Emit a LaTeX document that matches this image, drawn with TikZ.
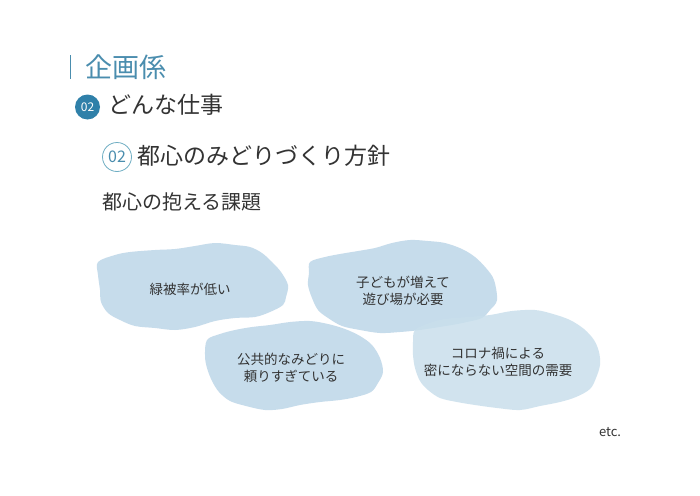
\documentclass[tikz,border=0pt]{standalone}
\usepackage{fontspec}
\setmainfont{Noto Sans CJK JP}
\definecolor{titleblue}{HTML}{4A8DAE}
\definecolor{darkblue}{HTML}{2F80A9}
\definecolor{ringblue}{HTML}{6FAEC3}
\definecolor{txt}{HTML}{333333}
\definecolor{blobA}{HTML}{BDD6E8}
\definecolor{blobB}{HTML}{C9DFEC}
\tikzset{
  blob/.style={fill=blobA, draw=none, fill opacity=0.85},
  blobtext/.style={text=txt, font=\fontsize{13.5}{16.5}\selectfont, align=center},
  head/.style={text=txt, anchor=west}
}
\begin{document}
\begin{tikzpicture}[x=1pt,y=-1pt]
\useasboundingbox (0,0) rectangle (700,495);
\fill[white] (0,0) rectangle (700,495);
% title
\draw[titleblue, line width=1pt] (70,55) coordinate (bt) -- (70,79) coordinate (bb);
\node[anchor=west, text=titleblue, font=\fontsize{27}{30}\selectfont, inner sep=0pt] (title) at (85,67) {企画係};
% heading 1
\node[circle, fill=darkblue, minimum size=25pt, inner sep=0pt, text=white, font=\fontsize{12}{13}\selectfont] (c1) at (87.5,107) {02};
\node[head, font=\fontsize{23}{27}\selectfont, inner sep=0pt] (h1) at (108,105) {どんな仕事};
% heading 2
\node[circle, draw=ringblue, line width=0.8pt, minimum size=29pt, inner sep=0pt, text=titleblue, font=\fontsize{16}{17}\selectfont] (c2) at (117,157) {02};
\node[head, font=\fontsize{23}{27}\selectfont, inner sep=0pt] (h2) at (137,156) {都心のみどりづくり方針};
% heading 3
\node[head, font=\fontsize{20}{24}\selectfont, inner sep=0pt] (h3) at (102,202) {都心の抱える課題};
% blobs
\fill[blob] plot[smooth cycle, tension=0.55] coordinates {(98,262) (115,255) (130,252) (155,250) (175,249) (195,246) (215,243) (235,245) (250,247) (262,253) (272,262) (281,272) (288,285) (286,297) (283,305) (270,312) (255,317) (235,318) (215,321) (195,327) (175,330) (155,328) (135,326) (120,320) (108,313) (101,302) (100,290) (98,275)};
\fill[blob] plot[smooth cycle, tension=0.55] coordinates {(310,262) (325,257) (340,254) (358,251) (375,248) (392,243) (410,240) (428,241) (445,243) (462,249) (475,257) (486,268) (494,280) (497,300) (490,310) (482,318) (467,322) (452,325) (420,330) (400,332) (380,333) (360,330) (342,326) (328,318) (318,310) (312,298) (308,285) (309,273)};
\fill[blob] plot[smooth cycle, tension=0.55] coordinates {(207,340) (220,334) (235,330) (252,327) (270,325) (290,322) (310,321) (328,324) (345,329) (360,336) (372,345) (380,358) (383,372) (378,383) (371,392) (356,397) (340,400) (320,402) (300,405) (282,409) (265,410) (246,406) (230,401) (219,392) (212,381) (207,368) (205,356)};
\fill[blob, fill=blobB] plot[smooth cycle, tension=0.55] coordinates {(415,330) (430,323) (445,319) (468,317) (490,315) (512,311) (535,310) (553,314) (570,320) (584,329) (594,340) (599,352) (600,365) (596,378) (590,389) (576,397) (560,402) (540,406) (520,410) (497,408) (475,405) (457,402) (440,398) (428,390) (420,381) (415,368) (413,355) (413,342)};
% blob texts
\node[blobtext] (t1) at (190,289) {緑被率が低い};
\node[blobtext] (t2) at (403,291) {子どもが増えて\\遊び場が必要};
\node[blobtext] (t3) at (291,368) {公共的なみどりに\\頼りすぎている};
\node[blobtext] (t4) at (498,362) {コロナ禍による\\密にならない空間の需要};
\node[text=txt, font=\fontsize{13}{15}\selectfont] (etc) at (610,432) {etc.};
\end{tikzpicture}
\end{document}
